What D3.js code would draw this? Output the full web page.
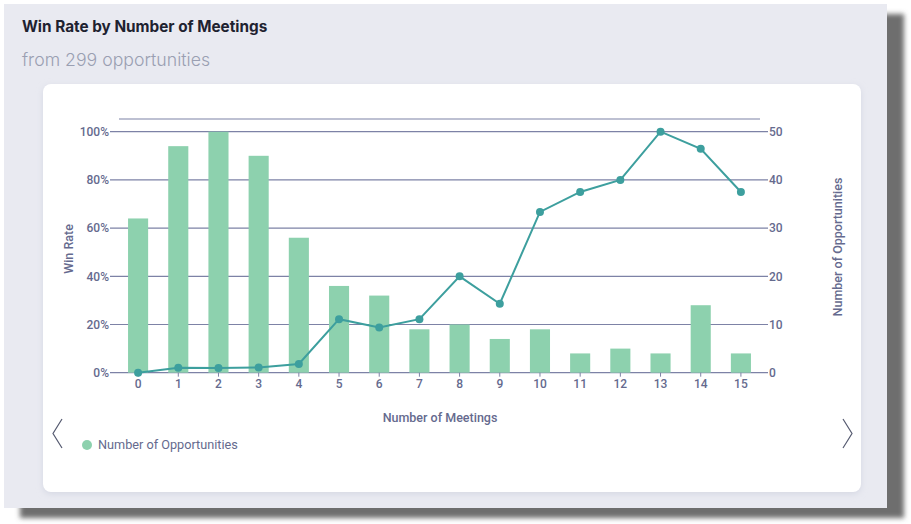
<!DOCTYPE html>
<html>
<head>
<meta charset="utf-8">
<script src="https://cdn.jsdelivr.net/npm/d3@7"></script>
<style>
  html, body { margin: 0; padding: 0; background: #ffffff; }
  svg { display: block; }
</style>
</head>
<body>
<svg id="chart" width="911" height="524"></svg>
<script>
const title = "Win Rate by Number of Meetings";
const subtitle = "from 299 opportunities";
const meetings = ["0","1","2","3","4","5","6","7","8","9","10","11","12","13","14","15"];
const opportunities = [32, 47, 50, 45, 28, 18, 16, 9, 10, 7, 9, 4, 5, 4, 14, 4];
const winRate = [0, 2.1, 2.0, 2.2, 3.6, 22.2, 18.75, 22.2, 40, 28.6, 66.7, 75, 80, 100, 92.9, 75];
const leftTicks = [0, 20, 40, 60, 80, 100];
const rightTicks = [0, 10, 20, 30, 40, 50];

(function () {
const svg = d3.select("#chart");

const defs = svg.append("defs");
const f = defs.append("filter").attr("id", "shadow").attr("x", "-5%").attr("y", "-5%").attr("width", "115%").attr("height", "120%");
f.append("feGaussianBlur").attr("stdDeviation", 2.5);

// drop shadow of outer panel
svg.append("rect").attr("x", 20).attr("y", 14).attr("width", 884).attr("height", 504)
  .attr("fill", "#6e6e6e").attr("filter", "url(#shadow)");
// outer panel
svg.append("rect").attr("x", 4).attr("y", 4).attr("width", 883).attr("height", 504)
  .attr("fill", "#e9eaf1");

// title
svg.append("text").attr("x", 22).attr("y", 32).text(title)
  .attr("font-family", "Inter, 'Open Sans', sans-serif").attr("font-size", 15.3).attr("font-weight", 700).attr("fill", "#1e2230");
svg.append("text").attr("x", 22).attr("y", 66).text(subtitle)
  .attr("font-family", "Inter, 'Open Sans', sans-serif").attr("font-size", 17.7).attr("font-weight", 300).attr("fill", "#9a9fb2");

// inner card
const cardShadow = defs.append("filter").attr("id", "cardShadow").attr("x", "-5%").attr("y", "-5%").attr("width", "110%").attr("height", "110%");
cardShadow.append("feGaussianBlur").attr("stdDeviation", 3);
svg.append("rect").attr("x", 43).attr("y", 86).attr("width", 818).attr("height", 408).attr("rx", 8)
  .attr("fill", "#d5d8e3").attr("filter", "url(#cardShadow)");
svg.append("rect").attr("x", 43).attr("y", 84).attr("width", 818).attr("height", 408).attr("rx", 8)
  .attr("fill", "#ffffff");

const pLeft = 118, pRight = 761, pTop = 131.7, pBottom = 372.7;
const x = d3.scaleBand().domain(meetings).range([pLeft, pRight]).paddingInner(0.5).paddingOuter(0.25);
const yL = d3.scaleLinear().domain([0, 100]).range([pBottom, pTop]);
const yR = d3.scaleLinear().domain([0, 50]).range([pBottom, pTop]);

const axisColor = "#656a8e";
const gridColor = "#7d82a6";
const font = "Roboto, 'Noto Sans', sans-serif";

// top border line
svg.append("line").attr("x1", pLeft + 1).attr("x2", pRight - 1).attr("y1", 119).attr("y2", 119)
  .attr("stroke", gridColor).attr("stroke-width", 1.2);

// grid lines
svg.append("g").selectAll("line").data(leftTicks).join("line")
  .attr("x1", pLeft - 8).attr("x2", pRight + 7)
  .attr("y1", d => yL(d)).attr("y2", d => yL(d))
  .attr("stroke", gridColor).attr("stroke-width", 1.2);

// bars
svg.append("g").selectAll("rect").data(opportunities).join("rect")
  .attr("x", (d, i) => x(meetings[i]))
  .attr("width", x.bandwidth())
  .attr("y", d => yR(d))
  .attr("height", d => pBottom - yR(d))
  .attr("fill", "#8dd1ae");

// left axis
const gL = svg.append("g").attr("transform", `translate(${pLeft},0)`)
  .call(d3.axisLeft(yL).tickValues(leftTicks).tickFormat(d => d + "%").tickSize(0).tickPadding(9));
gL.select(".domain").remove();
gL.selectAll("text").attr("font-family", font).attr("font-size", 12).attr("font-weight", 500).attr("fill", axisColor);

// right axis
const gR = svg.append("g").attr("transform", `translate(${pRight},0)`)
  .call(d3.axisRight(yR).tickValues(rightTicks).tickSize(0).tickPadding(8));
gR.select(".domain").remove();
gR.selectAll("text").attr("font-family", font).attr("font-size", 12).attr("font-weight", 500).attr("fill", axisColor);

// bottom axis
const gB = svg.append("g").attr("transform", `translate(0,${pBottom})`)
  .call(d3.axisBottom(x).tickSize(4).tickPadding(3));
gB.select(".domain").remove();
gB.selectAll("line").attr("stroke", gridColor);
gB.selectAll("text").attr("font-family", font).attr("font-size", 12).attr("font-weight", 500).attr("fill", axisColor);

// line
const cx = (i) => x(meetings[i]) + x.bandwidth() / 2;
const line = d3.line().x((d, i) => cx(i)).y(d => yL(d));
svg.append("path").datum(winRate).attr("d", line)
  .attr("fill", "none").attr("stroke", "#3d9f9e").attr("stroke-width", 2);
svg.append("g").selectAll("circle").data(winRate).join("circle")
  .attr("cx", (d, i) => cx(i)).attr("cy", d => yL(d)).attr("r", 4)
  .attr("fill", "#3d9f9e");

// axis titles
svg.append("text").attr("transform", `translate(73,249) rotate(-90)`)
  .attr("text-anchor", "middle").text("Win Rate")
  .attr("font-family", font).attr("font-size", 12.5).attr("font-weight", 500).attr("fill", axisColor);
svg.append("text").attr("transform", `translate(842,247) rotate(-90)`)
  .attr("text-anchor", "middle").text("Number of Opportunities")
  .attr("font-family", font).attr("font-size", 12.5).attr("font-weight", 500).attr("fill", axisColor);
svg.append("text").attr("x", 440).attr("y", 422).attr("text-anchor", "middle").text("Number of Meetings")
  .attr("font-family", font).attr("font-size", 12.5).attr("font-weight", 500).attr("fill", axisColor);

// legend
svg.append("circle").attr("cx", 87).attr("cy", 445).attr("r", 5).attr("fill", "#8dd1ae");
svg.append("text").attr("x", 98).attr("y", 449).text("Number of Opportunities")
  .attr("font-family", font).attr("font-size", 12.7).attr("font-weight", 400).attr("fill", axisColor);

// chevrons
svg.append("path").attr("d", "M62,419 L53,433.5 L62,448").attr("fill", "none").attr("stroke", "#555a70").attr("stroke-width", 1.2);
svg.append("path").attr("d", "M843,419 L852,433.5 L843,448").attr("fill", "none").attr("stroke", "#555a70").attr("stroke-width", 1.2);
})();
</script>
</body>
</html>
